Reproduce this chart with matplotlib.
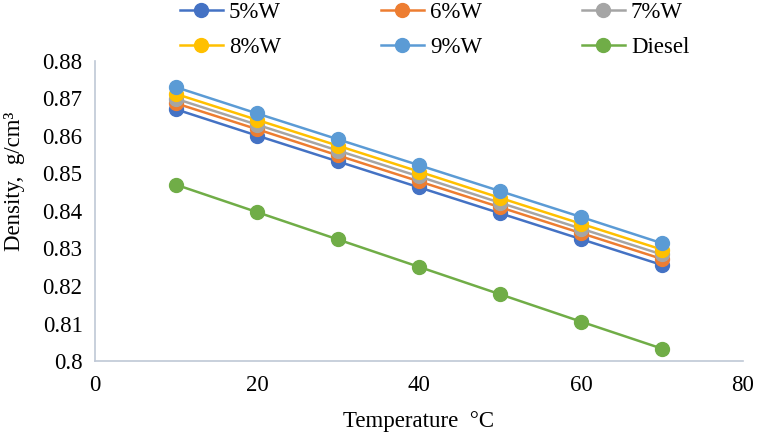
import matplotlib
matplotlib.use("Agg")
import matplotlib.pyplot as plt

# Temperature (°C) and density (g/cm3) per blend
temperature = [10, 20, 30, 40, 50, 60, 70]
w5 = [0.8671, 0.8601, 0.8532, 0.8463, 0.8394, 0.8325, 0.8256]
w6 = [0.8687, 0.8618, 0.8548, 0.8479, 0.8410, 0.8341, 0.8272]
w7 = [0.8699, 0.8630, 0.8561, 0.8492, 0.8422, 0.8353, 0.8284]
w8 = [0.8712, 0.8643, 0.8574, 0.8505, 0.8435, 0.8366, 0.8297]
w9 = [0.8730, 0.8660, 0.8591, 0.8522, 0.8453, 0.8384, 0.8314]
diesel = [0.8470, 0.8397, 0.8324, 0.8251, 0.8178, 0.8105, 0.8033]

series = [
    ("5%W", w5, "#4472C4"),
    ("6%W", w6, "#ED7D31"),
    ("7%W", w7, "#A5A5A5"),
    ("8%W", w8, "#FFC000"),
    ("9%W", w9, "#5B9BD5"),
    ("Diesel", diesel, "#70AD47"),
]

plt.rcParams["font.family"] = ["Liberation Serif", "DejaVu Serif"]

fig = plt.figure(figsize=(7.57, 4.4), dpi=100)
ax = fig.add_axes([0.1255, 0.1795, 0.856, 0.682])

lines = []
for label, vals, color in series:
    ln, = ax.plot(temperature, vals, color=color, marker="o", markersize=10,
                  linewidth=1.8, label=label)
    lines.append(ln)

ax.set_xlim(0, 80)
ax.set_ylim(0.8, 0.88)
ax.set_xticks([0, 20, 40, 60, 80])
ax.set_yticks([0.8, 0.81, 0.82, 0.83, 0.84, 0.85, 0.86, 0.87, 0.88])
ax.set_yticklabels(["0.8", "0.81", "0.82", "0.83", "0.84", "0.85", "0.86", "0.87", "0.88"])
ax.tick_params(length=0, labelsize=16.5)
ax.tick_params(axis="x", pad=10)
ax.tick_params(axis="y", pad=9)

for side in ["top", "right"]:
    ax.spines[side].set_visible(False)
for side in ["left", "bottom"]:
    ax.spines[side].set_color("#BFC8D6")
    ax.spines[side].set_linewidth(1.2)

ax.set_xlabel("Temperature  °C", fontsize=16.5, labelpad=11)
ax.set_ylabel("Density,  g/cm³", fontsize=16.5)
ax.yaxis.set_label_coords(-0.108, 0.6)

# row-wise legend order: 5,6,7 / 8,9,Diesel
order = [0, 3, 1, 4, 2, 5]
fig.legend([lines[i] for i in order], [series[i][0] for i in order],
           loc="upper left", bbox_to_anchor=(0.222, 1.022), ncol=3,
           frameon=False, fontsize=16.5, borderpad=0, columnspacing=4.35,
           handlelength=1.9, handletextpad=0.25, labelspacing=0.62)

plt.savefig("out.png", dpi=100)
